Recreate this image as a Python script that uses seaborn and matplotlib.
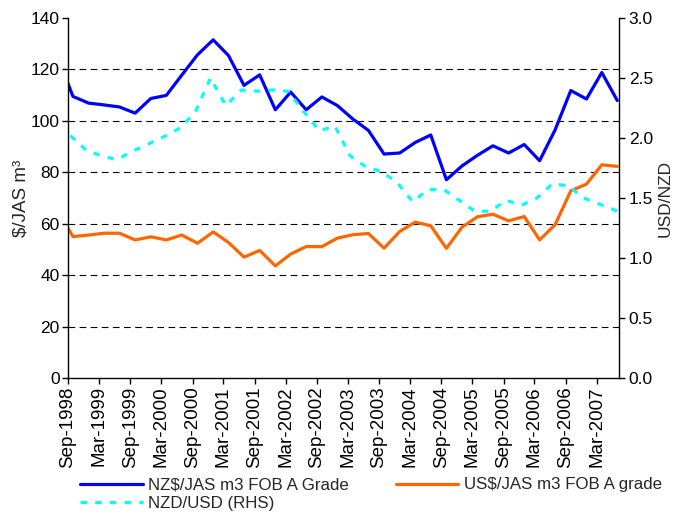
import matplotlib
matplotlib.use("Agg")
import matplotlib.pyplot as plt
import seaborn as sns
import pandas as pd
import numpy as np

# ---------------- data ----------------
# quarterly log prices (first point Jun-1998 lies left of the axis start and is clipped)
price_dates = pd.date_range("1998-06-30", periods=37, freq="QE")
nz_price = [125.4, 109.5, 106.9, 106.2, 105.4, 103.0, 108.7, 109.9, 117.8, 125.7,
            131.5, 125.4, 113.8, 117.9, 104.3, 111.2, 104.3, 109.3, 105.9, 100.7,
            96.3, 87.1, 87.5, 91.6, 94.5, 77.1, 82.5, 86.6, 90.3, 87.5,
            90.8, 84.5, 96.5, 111.8, 108.5, 118.8, 107.9]
us_price = [65.4, 55.0, 55.6, 56.3, 56.3, 53.7, 54.9, 53.7, 55.6, 52.4,
            56.8, 52.7, 47.0, 49.6, 43.6, 48.2, 51.1, 51.1, 54.4, 55.7,
            56.2, 50.5, 57.0, 60.6, 59.2, 50.4, 58.7, 62.7, 63.7, 61.1,
            62.8, 53.7, 59.6, 72.8, 75.4, 82.9, 82.3]
# exchange rate, mid-quarter points (first and last partly clipped)
fx_dates = pd.date_range("1998-08-15", periods=37, freq="3MS") + pd.Timedelta(days=14)
nzd_usd = [2.02, 1.90, 1.85, 1.82, 1.89, 1.95, 2.01, 2.08, 2.21, 2.50,
           2.27, 2.40, 2.39, 2.40, 2.39, 2.22, 2.06, 2.10, 1.85, 1.76,
           1.72, 1.63, 1.47, 1.57, 1.57, 1.48, 1.39, 1.39, 1.48, 1.44,
           1.50, 1.62, 1.60, 1.50, 1.45, 1.40, 1.29]

tick_dates = pd.date_range("1998-09-01", "2007-03-01", freq="6MS")
tick_labels = ["Sep-1998", "Mar-1999", "Sep-1999", "Mar-2000", "Sep-2000", "Mar-2001",
               "Sep-2001", "Mar-2002", "Sep-2002", "Mar-2003", "Sep-2003", "Mar-2004",
               "Sep-2004", "Mar-2005", "Sep-2005", "Mar-2006", "Sep-2006", "Mar-2007"]

label_nz = "NZ$/JAS m3 FOB A Grade"
label_us = "US$/JAS m3 FOB A grade"
label_fx = "NZD/USD (RHS)"

prices = pd.DataFrame({"date": price_dates, "nz": nz_price, "us": us_price})
fx = pd.DataFrame({"date": fx_dates, "fx": nzd_usd})

# ---------------- style ----------------
sns.set_style("ticks")
plt.rcParams["font.family"] = ["Liberation Sans", "DejaVu Sans"]
plt.rcParams["font.size"] = 12

fig = plt.figure(figsize=(6.75, 5.16), dpi=100)
ax = fig.add_axes([68 / 675, 1 - 378 / 516, (619 - 68) / 675, 360 / 516])
ax2 = ax.twinx()

sns.lineplot(data=prices, x="date", y="nz", ax=ax, color="#0000FF", linewidth=2.3,
             label=label_nz, legend=False)
sns.lineplot(data=prices, x="date", y="us", ax=ax, color="#FF6600", linewidth=2.3,
             label=label_us, legend=False)
sns.lineplot(data=fx, x="date", y="fx", ax=ax2, color="#00FFFF", linewidth=2.3,
             label=label_fx, legend=False)
ax2.get_lines()[0].set_linestyle((0, (2.0, 2.6)))

for a in (ax, ax2):
    if a.get_legend() is not None:
        a.get_legend().remove()

ax.set_xlim(pd.Timestamp("1998-09-01"), pd.Timestamp("2007-07-10"))
ax.set_ylim(0, 140)
ax2.set_ylim(0, 3.0)
ax.set_yticks(np.arange(0, 141, 20))
ax2.set_yticks(np.arange(0, 3.01, 0.5))
ax2.set_yticklabels([f"{v:.1f}" for v in np.arange(0, 3.01, 0.5)])
ax.set_xticks(tick_dates)
ax.set_xticklabels(tick_labels, rotation=90, fontsize=13.5)

ax.yaxis.grid(True, linestyle=(0, (6, 4)), color="black", linewidth=0.8)
gl = ax.get_ygridlines()
gl[0].set_visible(False)
gl[-1].set_visible(False)
ax.xaxis.grid(False)
ax2.grid(False)

for a in (ax, ax2):
    a.spines["top"].set_visible(False)
    for s in ("left", "right", "bottom"):
        a.spines[s].set_color("black")
        a.spines[s].set_linewidth(1.0)
ax.spines["right"].set_visible(False)
ax2.spines["left"].set_visible(False)
ax2.spines["bottom"].set_visible(False)

ax.tick_params(axis="y", direction="out", length=4, width=1, colors="black",
               labelsize=12.5, pad=2)
ax.tick_params(axis="x", direction="out", length=4, width=1, colors="black", pad=2)
ax2.tick_params(axis="y", direction="out", length=4, width=1, colors="black",
                labelsize=12.5, pad=3)

ax.set_xlabel("")
ax.set_ylabel("$/JAS m³", fontsize=13.5, labelpad=1)
ax2.set_ylabel("USD/NZD", fontsize=12.5, labelpad=3)

h1, l1 = ax.get_legend_handles_labels()
h2, l2 = ax2.get_legend_handles_labels()
handles = [h1[0], h2[0], h1[1]]
labels = [l1[0], l2[0], l1[1]]
fig.legend(handles, labels, ncol=2, loc="upper left",
           bbox_to_anchor=(72 / 675, 1 - 469 / 516), frameon=False,
           borderpad=0, handlelength=3.7, handletextpad=0.3,
           columnspacing=2.75, labelspacing=0.22, fontsize=12.2)

fig.savefig("out.png", dpi=100)
